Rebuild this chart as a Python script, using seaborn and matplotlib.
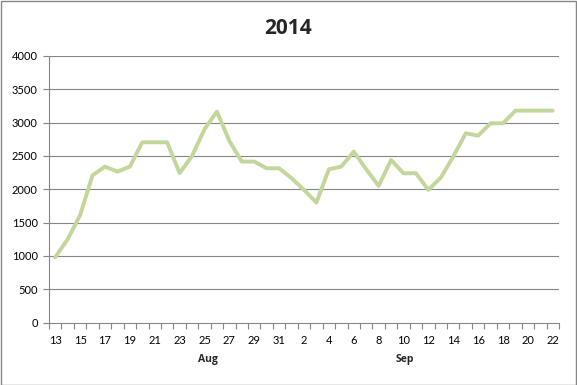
import numpy as np
import pandas as pd
import matplotlib
matplotlib.use("Agg")
import matplotlib.pyplot as plt
from matplotlib.patches import Rectangle
import seaborn as sns

# daily values, Aug 13 .. Sep 22 2014
days = list(range(13, 32)) + list(range(1, 23))
months = ["Aug"] * 19 + ["Sep"] * 22
values = [
    980, 1250, 1610, 2210, 2340, 2265, 2340, 2705, 2705, 2705,
    2240, 2500, 2900, 3165, 2725, 2415, 2415, 2315, 2315, 2165,
    1990, 1800, 2300, 2340, 2565, 2300, 2050, 2440, 2240, 2240,
    1990, 2175, 2490, 2840, 2805, 2990, 2990, 3180, 3180, 3180,
    3180,
]
title = "2014"

df = pd.DataFrame({"idx": np.arange(len(days)), "day": days,
                   "month": months, "value": values})

sns.set_theme(style="white")
plt.rcParams["font.family"] = ["Lato", "DejaVu Sans"]

fig, ax = plt.subplots(figsize=(5.77, 3.85), dpi=100)
fig.subplots_adjust(left=49 / 577, right=559 / 577,
                    bottom=1 - 322.5 / 385, top=1 - 56 / 385)

grid_c = "#868686"
ax.set_axisbelow(True)
for yv in range(500, 4001, 500):
    ax.axhline(yv, color=grid_c, lw=0.8, zorder=0)

sns.lineplot(data=df, x="idx", y="value", color="#c3d69b", lw=2.8, ax=ax)

ax.set_xlim(-0.5, len(days) - 0.5)
ax.set_ylim(0, 4000)
ax.set_yticks(range(0, 4001, 500))
ax.set_xticks(df["idx"][::2])
ax.set_xticklabels([str(d) for d in days[::2]])
ax.set_xticks(np.arange(-0.5, len(days), 1.0), minor=True)
ax.tick_params(axis="x", which="major", length=0, pad=9, labelsize=8,
               colors="black")
ax.tick_params(axis="x", which="minor", length=4, width=0.8,
               color=grid_c, bottom=True)
ax.tick_params(axis="y", length=4, width=0.8, color=grid_c, left=True,
               pad=4, labelsize=8, labelcolor="black")
ax.set_xlabel("")
ax.set_ylabel("")

for side in ["top", "right"]:
    ax.spines[side].set_visible(False)
for side in ["left", "bottom"]:
    ax.spines[side].set_color(grid_c)
    ax.spines[side].set_linewidth(0.8)

# month labels under the day labels
trans = ax.get_xaxis_transform()
for m, xpos in [("Aug", 12.3), ("Sep", 28.1)]:
    ax.text(xpos, -0.14, m, transform=trans, ha="center", va="center",
            fontsize=7.5, fontweight="bold", family=["Open Sans", "DejaVu Sans"])

fig.suptitle(title, y=1 - 28 / 385, va="center", fontsize=15,
             fontweight="bold", family=["Open Sans", "DejaVu Sans"])

fig.patches.append(Rectangle((0.001, 0.001), 0.997, 0.997,
                             transform=fig.transFigure, fill=False,
                             edgecolor="#868686", lw=1))

fig.savefig("out.png", dpi=100)
